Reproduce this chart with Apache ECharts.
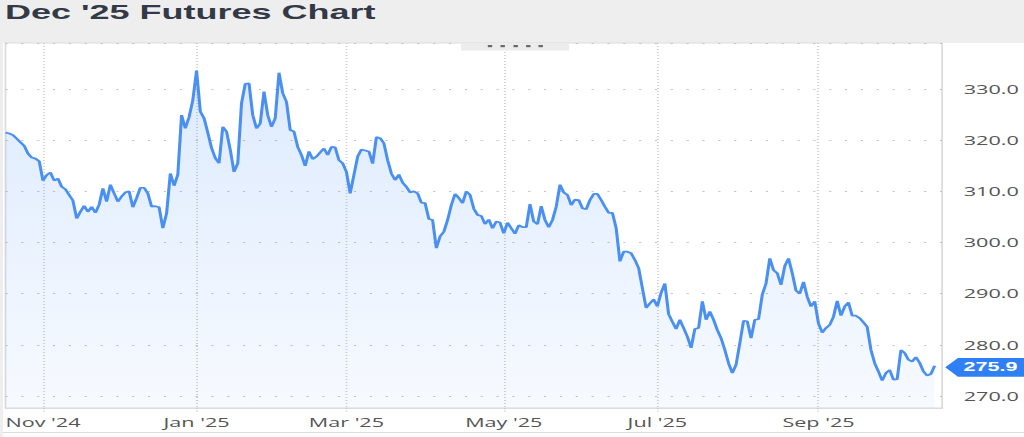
<!DOCTYPE html>
<html>
<head>
<meta charset="utf-8">
<script src="https://cdn.jsdelivr.net/npm/echarts@6/dist/echarts.min.js"></script>
<style>
  html, body { margin: 0; padding: 0; background: #eeeeee; overflow: hidden; }
  #wrap { width: 1024px; height: 437px; overflow: hidden; position: relative; }
  #chart { width: 568.89px; height: 437px; transform: scaleX(1.8); transform-origin: 0 0; }
</style>
</head>
<body>
<div id="wrap"><div id="chart"></div></div>
<script>
// ---- data ----
const titleText = "Dec '25 Futures Chart";
const firstDate = '2024-10-18';
const lastAxisDate = '2025-10-17';
const holidays = ['2024-11-28','2024-12-25','2025-01-01','2025-01-20','2025-02-17',
                  '2025-04-18','2025-05-26','2025-06-19','2025-07-04','2025-09-01'];
const tickDates = ['2024-11-01','2025-01-02','2025-03-03','2025-05-01','2025-07-01','2025-09-02'];
const tickLabels = ["Nov '24","Jan '25","Mar '25","May '25","Jul '25","Sep '25"];
const prices = [
321.5,321.3,321.0,320.3,319.6,318.9,317.4,316.6,316.4,315.9,
312.1,313.2,313.7,312.1,312.5,310.9,310.4,309.3,308.2,304.7,
306.0,307.2,306.0,307.0,305.8,307.4,310.6,308.0,311.3,309.6,
308.0,309.0,309.8,310.0,306.9,308.7,310.7,310.7,309.6,307.0,
307.1,306.9,302.8,305.7,313.5,311.1,313.3,324.9,322.3,324.5,
327.8,333.6,325.6,324.3,321.5,318.5,316.5,315.5,322.6,321.7,
318.1,313.8,315.5,327.2,331.0,331.1,324.9,322.3,323.3,329.5,
324.9,322.6,324.3,333.2,329.2,327.5,322.0,321.7,318.7,317.1,
315.0,317.8,316.3,316.8,317.6,318.4,317.1,318.7,318.6,316.1,
315.5,313.8,309.6,313.2,316.8,318.2,318.0,317.8,315.4,320.6,
320.4,319.4,316.1,313.5,312.2,313.3,311.7,310.9,309.8,310.0,
309.6,307.8,307.7,304.6,304.4,298.9,301.2,302.1,304.4,307.3,
309.5,308.7,307.7,310.0,309.3,306.6,305.4,305.2,303.6,304.5,
302.8,304.1,303.9,301.8,303.9,302.8,301.7,303.4,303.0,303.0,
307.5,304.1,303.6,307.1,304.4,303.0,304.4,307.0,311.3,309.8,
309.3,307.3,308.4,308.3,306.7,306.5,308.3,309.5,309.5,308.3,
307.0,305.8,305.8,302.8,296.3,298.2,298.2,297.9,296.6,295.0,
291.1,287.2,288.1,288.9,287.5,290.2,292.0,286.0,284.5,283.1,
284.9,283.3,281.6,279.4,283.1,283.3,288.5,284.9,286.5,284.9,
282.9,281.3,279.0,276.4,274.5,276.1,280.3,284.7,284.6,281.3,
284.9,285.0,289.8,292.0,296.9,294.6,294.0,291.7,295.4,296.9,
294.0,290.6,290.0,292.3,289.4,287.5,288.5,284.2,282.4,283.3,
283.9,285.5,288.6,285.7,287.5,288.3,285.7,285.7,285.2,284.4,
283.5,279.0,276.4,274.8,273.0,274.5,275.1,273.2,273.3,279.0,
278.4,277.1,276.7,277.6,276.5,274.8,274.0,274.3,275.9
];

// trading-day categories (weekdays minus exchange holidays)
function tradingDays(from, to, skip) {
  const out = [];
  const d = new Date(from + 'T00:00:00Z');
  const end = new Date(to + 'T00:00:00Z');
  while (d <= end) {
    const wd = d.getUTCDay();
    const s = d.toISOString().slice(0, 10);
    if (wd !== 0 && wd !== 6 && skip.indexOf(s) < 0) out.push(s);
    d.setUTCDate(d.getUTCDate() + 1);
  }
  return out;
}
const dates = tradingDays(firstDate, lastAxisDate, holidays);
const lastIdx = prices.length - 1;
const lastPrice = prices[lastIdx];

const chart = echarts.init(document.getElementById('chart'), null, { renderer: 'svg' });
const isTick = (idx, val) => tickDates.indexOf(val) >= 0;
const S = 1.8;

const handleDots = [490, 502.7, 515.7, 528.3, 540.7].map(x => ({
  type: 'rect', z: 20, silent: true,
  shape: { x: (x - 2.2) / S, y: 45, width: 4.4 / S, height: 2.2 },
  style: { fill: '#6a6a6a' }
}));

chart.setOption({
  animation: false,
  backgroundColor: 'transparent',
  graphic: [
    { type: 'rect', z: -10, silent: true, shape: { x: 0, y: 0, width: 1024 / S, height: 437 }, style: { fill: '#eeeeee' } },
    { type: 'rect', z: -9, silent: true, shape: { x: 3 / S, y: 43, width: 1024 / S, height: 394 }, style: { fill: '#ffffff' } },
    { type: 'rect', z: -8, silent: true, shape: { x: 3 / S, y: 432, width: 1024 / S, height: 1 }, style: { fill: '#dddddd' } },
    { type: 'rect', z: 10, silent: true, shape: { x: 461 / S, y: 43, width: 108 / S, height: 7.5 }, style: { fill: '#ececec' } }
  ].concat(handleDots).concat([
    { type: 'text', z: 12, silent: true, left: 5 / S, top: 2,
      style: { text: titleText, fill: '#333946', font: 'bold 20px "Liberation Sans", Arial, sans-serif' } }
  ]),
  grid: {
    left: 3 / S, right: (1024 - 942) / S, top: 43, bottom: 437 - 408,
    show: true, borderColor: '#dcdcdc', borderWidth: 1, backgroundColor: 'transparent'
  },
  xAxis: {
    type: 'category',
    data: dates,
    boundaryGap: false,
    axisLine: { show: true, lineStyle: { color: '#dcdcdc' } },
    axisTick: { show: true, interval: isTick, length: 5, lineStyle: { color: '#c8c8c8', type: [1, 1.5] } },
    splitLine: { show: true, interval: isTick, lineStyle: { color: '#d0d0d0', type: [1, 2], width: 1 } },
    axisLabel: {
      interval: isTick, margin: 8, color: '#555555',
      fontFamily: '"Open Sans", sans-serif', fontSize: 12,
      formatter: v => tickLabels[tickDates.indexOf(v)]
    }
  },
  yAxis: {
    type: 'value',
    position: 'right',
    min: 267.65, max: 339.0, splitNumber: 7,
    axisLine: { show: false }, axisTick: { show: false },
    splitLine: { show: true, lineStyle: { color: '#c4c4c4', type: [1.2, 7.6], width: 1 } },
    axisLabel: {
      margin: 12, color: '#555555', fontFamily: '"Open Sans", sans-serif', fontSize: 12,
      showMinLabel: false, showMaxLabel: false,
      formatter: v => v.toFixed(1)
    }
  },
  series: [{
    type: 'line',
    data: prices,
    showSymbol: false,
    symbol: 'none',
    lineStyle: { color: '#4a8ff2', width: 1.7 },
    areaStyle: {
      color: new echarts.graphic.LinearGradient(0, 0, 0, 1, [
        { offset: 0, color: 'rgba(61,138,247,0.25)' },
        { offset: 1, color: 'rgba(61,138,247,0.06)' }
      ])
    },
    markPoint: {
      silent: true,
      symbol: 'path://M0,9 L7,0 L44,0 L44,18 L7,18 Z',
      symbolSize: [44.4, 18.7],
      symbolKeepAspect: false,
      symbolOffset: [28.1, 1.5],
      itemStyle: { color: '#2f80f5' },
      label: {
        show: true, position: 'inside', offset: [3, 0], color: '#ffffff',
        fontWeight: 'bold', fontSize: 12, fontFamily: '"Liberation Sans", Arial, sans-serif',
        formatter: p => p.value.toFixed(1)
      },
      data: [{ coord: [lastIdx, lastPrice], value: lastPrice }]
    }
  }]
});
</script>
</body>
</html>
